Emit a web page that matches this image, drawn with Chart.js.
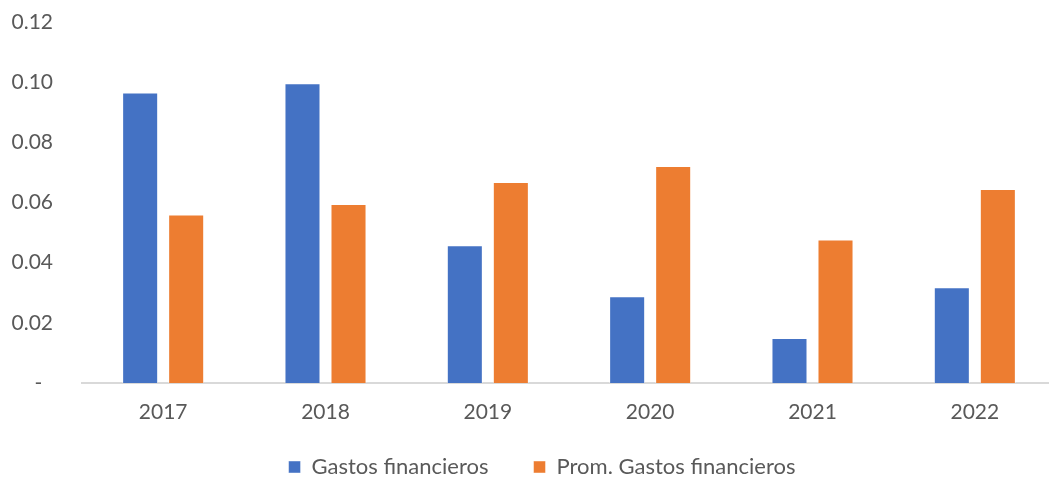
<!DOCTYPE html>
<html>
<head>
<meta charset="utf-8">
<script src="https://cdn.jsdelivr.net/npm/chart.js@4.4.1/dist/chart.umd.min.js"></script>
<style>
  html, body { margin: 0; padding: 0; background: #fff; overflow: hidden; }
  #wrap { position: relative; width: 1082px; height: 488px; }
</style>
</head>
<body>
<div id="wrap"><canvas id="grafico"></canvas></div>
<script>
// --- Datos ---
const anios = ['2017', '2018', '2019', '2020', '2021', '2022'];
const gastosFinancieros = [0.0966, 0.0996, 0.0458, 0.0288, 0.0150, 0.0318];
const promGastosFinancieros = [0.0560, 0.0595, 0.0668, 0.0721, 0.0477, 0.0645];
const ticksY = [0, 0.02, 0.04, 0.06, 0.08, 0.10, 0.12];

const AZUL = '#4472C4';
const NARANJA = '#ED7D31';
const GRIS_TEXTO = '#595959';
const FUENTE = 'Lato, "Open Sans", sans-serif';

const ctx = document.getElementById('grafico').getContext('2d');

new Chart(ctx, {
  type: 'bar',
  data: {
    labels: anios,
    datasets: [
      { label: 'Gastos financieros', data: gastosFinancieros, backgroundColor: AZUL,
        borderColor: 'rgba(255,255,255,0.45)', borderWidth: 1 },
      { label: 'Prom. Gastos financieros', data: promGastosFinancieros, backgroundColor: NARANJA,
        borderColor: 'rgba(255,255,255,0.45)', borderWidth: 1 }
    ]
  },
  options: {
    responsive: true,
    maintainAspectRatio: false,
    animation: false,
    layout: { padding: { top: 22, left: 28, right: 26, bottom: 0 } },
    datasets: { bar: { categoryPercentage: 0.567, barPercentage: 0.783 } },
    plugins: {
      tooltip: { enabled: false },
      legend: {
        position: 'bottom',
        labels: {
          boxWidth: 12, boxHeight: 12, padding: 45,
          color: GRIS_TEXTO,
          font: { family: FUENTE, size: 22 }
        }
      }
    },
    scales: {
      x: {
        grid: { display: false, drawTicks: false },
        border: { display: true, color: '#D9D9D9', width: 2 },
        ticks: { color: GRIS_TEXTO, padding: 17, font: { family: FUENTE, size: 21 } },
        afterFit: (scale) => {
          scale.height = 28;
          scale._computeLabelArea = () => undefined;
        }
      },
      y: {
        min: 0, max: 0.12,
        afterBuildTicks: (scale) => { scale.ticks = ticksY.map(v => ({ value: v })); },
        // marcas invisibles: sólo separan las etiquetas del área del gráfico
        grid: { display: false, drawTicks: true, tickLength: 29 },
        border: { display: false },
        ticks: {
          color: GRIS_TEXTO, padding: 0,
          font: { family: FUENTE, size: 21 },
          callback: (v) => (v === 0 ? '-  ' : v.toFixed(2))
        },
        afterFit: (scale) => {
          scale.width = 54;
          // las etiquetas salen del recuadro del eje: no recortarlas
          scale._computeLabelArea = () => undefined;
        }
      }
    }
  }
});
</script>
</body>
</html>
